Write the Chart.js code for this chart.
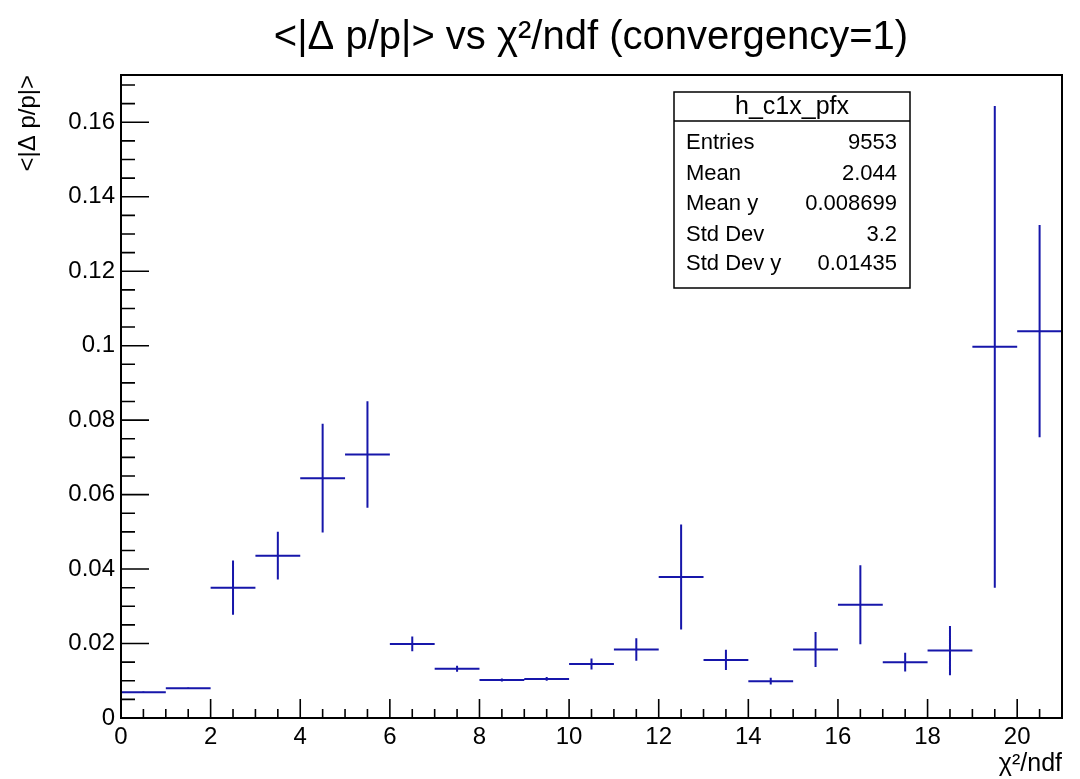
<!DOCTYPE html>
<html>
<head>
<meta charset="utf-8">
<script src="https://cdn.jsdelivr.net/npm/chart.js@4.4.1/dist/chart.umd.min.js"></script>
<style>
  html, body { margin: 0; padding: 0; background: #fff; }
  #wrap { width: 1080px; height: 779px; }
</style>
</head>
<body>
<div id="wrap"><canvas id="profChart"></canvas></div>
<script>
// bin edges of chi2/ndf (21 bins of width 1)
var binEdges = [0, 1, 2, 3, 4, 5, 6, 7, 8, 9, 10, 11, 12, 13, 14, 15, 16, 17, 18, 19, 20, 21];
// mean <|dp/p|> per bin
var binMeans = [0.0069, 0.0080, 0.0350, 0.0436, 0.0644, 0.0708, 0.0199, 0.0132, 0.0102, 0.0105, 0.0145,
                0.0184, 0.0379, 0.0156, 0.0099, 0.0184, 0.0304, 0.0150, 0.0181, 0.0997, 0.1039];
// error on the mean per bin
var binErrors = [0.0002, 0.0002, 0.0073, 0.0064, 0.0146, 0.0143, 0.0020, 0.0008, 0.0004, 0.0005, 0.0015,
                 0.0030, 0.0141, 0.0027, 0.0009, 0.0047, 0.0106, 0.0025, 0.0066, 0.0647, 0.0285];

var xTickLabels = [0, 2, 4, 6, 8, 10, 12, 14, 16, 18, 20];
var yTickLabels = [0, 0.02, 0.04, 0.06, 0.08, 0.1, 0.12, 0.14, 0.16];

var statNames = ['Entries', 'Mean', 'Mean y', 'Std Dev', 'Std Dev y'];
var statValues = ['9553', '2.044', '0.008699', '3.2', '0.01435'];

var chartTitle = '<|\u0394 p/p|> vs \u03c7\u00b2/ndf (convergency=1)';

var FONT = "'Liberation Sans', Arial, Helvetica, sans-serif";
var LINE_COLOR = '#1616aa';

// horizontal bin segments and vertical error segments, split by null points
var hSegs = [];
var vSegs = [];
for (var i = 0; i < binMeans.length; i++) {
    var lo = binEdges[i], hi = binEdges[i + 1], mid = (lo + hi) / 2;
    hSegs.push({x: lo, y: binMeans[i]}, {x: hi, y: binMeans[i]}, {x: hi, y: null});
    vSegs.push({x: mid, y: binMeans[i] - binErrors[i]}, {x: mid, y: binMeans[i] + binErrors[i]}, {x: mid, y: null});
}

// ROOT style frame: title, box, inward major and minor ticks, stats box
var rootFrame = {
    id: 'rootFrame',
    afterDraw: function (chart) {
        var ctx = chart.ctx, a = chart.chartArea;
        var xs = chart.scales.x, ys = chart.scales.y;
        ctx.save();

        // title (ROOT puts it a bit right of the canvas centre)
        ctx.fillStyle = '#000';
        ctx.font = '40px ' + FONT;
        ctx.textAlign = 'center';
        ctx.textBaseline = 'middle';
        ctx.fillText(chartTitle, 591, 38);

        ctx.strokeStyle = '#000';
        ctx.lineWidth = 2;
        ctx.strokeRect(a.left, a.top, a.right - a.left, a.bottom - a.top);

        ctx.lineWidth = 1.6;
        ctx.beginPath();
        for (var k = 0; k <= 42; k++) {
            var xv = k * 0.5;
            if (xv > xs.max) break;
            var px = xs.getPixelForValue(xv);
            var len = (k % 4 === 0) ? 19 : 9;
            ctx.moveTo(px, a.bottom);
            ctx.lineTo(px, a.bottom - len);
        }
        for (var m = 0; m <= 40; m++) {
            var yv = m * 0.005;
            if (yv > ys.max) break;
            var py = ys.getPixelForValue(yv);
            var ylen = (m % 4 === 0) ? 28 : 14;
            ctx.moveTo(a.left, py);
            ctx.lineTo(a.left + ylen, py);
        }
        ctx.stroke();

        // stats box
        var bx = 674, by = 92, bw = 236, bh = 196;
        ctx.fillStyle = '#fff';
        ctx.fillRect(bx, by, bw, bh);
        ctx.lineWidth = 1.5;
        ctx.strokeRect(bx, by, bw, bh);
        ctx.beginPath();
        ctx.moveTo(bx, 121);
        ctx.lineTo(bx + bw, 121);
        ctx.stroke();

        ctx.fillStyle = '#000';
        ctx.font = '25px ' + FONT;
        ctx.textAlign = 'center';
        ctx.fillText('h_c1x_pfx', bx + bw / 2, 107);
        ctx.font = '22px ' + FONT;
        var rowsY = [143, 174, 204, 235, 264];
        for (var r = 0; r < statNames.length; r++) {
            ctx.textAlign = 'left';
            ctx.fillText(statNames[r], 686, rowsY[r]);
            ctx.textAlign = 'right';
            ctx.fillText(statValues[r], 897, rowsY[r]);
        }
        ctx.restore();
    }
};

var profCanvas = document.getElementById('profChart').getContext('2d');

new Chart(profCanvas, {
    type: 'scatter',
    data: {
        datasets: [
            {
                label: 'bins',
                data: hSegs,
                showLine: true,
                spanGaps: false,
                borderColor: LINE_COLOR,
                borderWidth: 2,
                pointRadius: 0,
                pointHoverRadius: 0
            },
            {
                label: 'errors',
                data: vSegs,
                showLine: true,
                spanGaps: false,
                borderColor: LINE_COLOR,
                borderWidth: 2,
                pointRadius: 0,
                pointHoverRadius: 0
            }
        ]
    },
    options: {
        responsive: true,
        maintainAspectRatio: false,
        animation: false,
        layout: { padding: { left: 0, right: 18, top: 75, bottom: 0 } },
        plugins: {
            legend: { display: false },
            tooltip: { enabled: false },
            title: { display: false }
        },
        scales: {
            x: {
                type: 'linear',
                min: 0,
                max: 21,
                grid: { display: false, drawTicks: false },
                border: { display: false },
                afterFit: function (scale) { scale.height = 61; },
                afterBuildTicks: function (scale) {
                    scale.ticks = xTickLabels.map(function (v) { return {value: v}; });
                },
                ticks: {
                    autoSkip: false,
                    maxRotation: 0,
                    padding: 5,
                    color: '#000',
                    font: { family: FONT, size: 24 },
                    callback: function (v) { return String(v); }
                },
                title: {
                    display: true,
                    text: '\u03c7\u00b2/ndf',
                    align: 'end',
                    color: '#000',
                    font: { family: FONT, size: 25 },
                    padding: { top: 0, bottom: 0 }
                }
            },
            y: {
                type: 'linear',
                min: 0,
                max: 0.1727,
                grid: { display: false, drawTicks: false },
                border: { display: false },
                afterFit: function (scale) { scale.width = 121; },
                afterBuildTicks: function (scale) {
                    scale.ticks = yTickLabels.map(function (v) { return {value: v}; });
                },
                ticks: {
                    autoSkip: false,
                    padding: 6,
                    color: '#000',
                    font: { family: FONT, size: 24 },
                    callback: function (v) { return String(+v.toFixed(3)); }
                },
                title: {
                    display: true,
                    text: '<|\u0394 p/p|>',
                    align: 'end',
                    color: '#000',
                    font: { family: FONT, size: 24 },
                    padding: { top: 14, bottom: 0 }
                }
            }
        }
    },
    plugins: [rootFrame]
});
</script>
</body>
</html>
